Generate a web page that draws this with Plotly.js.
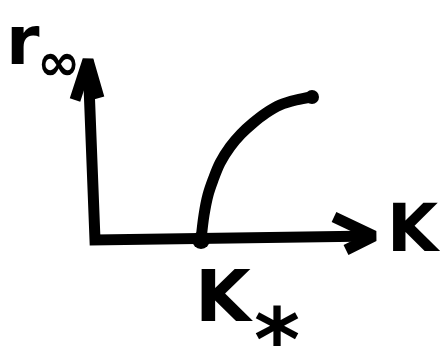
<!DOCTYPE html>
<html>
<head>
<meta charset="utf-8">
<script src="https://cdn.plot.ly/plotly-3.0.1.min.js"></script>
<style>
  html, body { margin: 0; padding: 0; background: #fff; }
  #plot { width: 440px; height: 352px; }
</style>
</head>
<body>
<div id="plot"></div>
<script>
// Sketch of r_inf versus K: zero below the threshold K*, rising beyond it.
// Coordinates are in a canvas-like frame (y grows downward).

// axes: vertical r_inf axis, horizontal K axis
const axisX = [88, 95, 374];
const axisY = [60, 240, 236];

// arrow heads
const rArrowX = [75, 88, 99];
const rArrowY = [100, 60, 98];
const kArrowX = [334, 374, 346];
const kArrowY = [217, 236, 250];

// r_inf(K) branch starting at the threshold K*
const curveK = [201, 204, 208, 213, 220, 230, 241, 253, 266, 280, 296, 312];
const curveR = [240, 215, 195, 180, 163, 147, 134, 123, 113, 105, 100, 97];

// threshold point
const thresholdK = [201];
const thresholdR = [240];

const ink = '#000';
const stroke = 11;

function path(x, y, w, shape) {
  return {
    x: x, y: y, type: 'scatter', mode: 'lines',
    line: { color: ink, width: w, shape: shape || 'linear' },
    hoverinfo: 'skip', showlegend: false
  };
}

const traces = [
  path(axisX, axisY, stroke),
  path(rArrowX, rArrowY, stroke),
  path(kArrowX, kArrowY, stroke),
  path(curveK, curveR, stroke, 'spline'),
  {
    x: [curveK[curveK.length - 1]], y: [curveR[curveR.length - 1]],
    type: 'scatter', mode: 'markers',
    marker: { color: ink, size: 14 }, hoverinfo: 'skip', showlegend: false
  },
  {
    x: thresholdK, y: thresholdR, type: 'scatter', mode: 'markers',
    marker: { color: ink, size: 18 }, hoverinfo: 'skip', showlegend: false
  }
];

const font = 'DejaVu Sans';
function label(text, x, y, size, xanchor) {
  return {
    text: text, x: x, y: y, xref: 'x', yref: 'y', showarrow: false,
    xanchor: xanchor || 'center', yanchor: 'middle',
    font: { family: font, size: size, color: ink, weight: 'bold' }
  };
}

const layout = {
  width: 440, height: 352,
  margin: { l: 0, r: 0, t: 0, b: 0 },
  paper_bgcolor: '#fff', plot_bgcolor: '#fff',
  xaxis: { range: [0, 440], visible: false, fixedrange: true },
  yaxis: { range: [352, 0], visible: false, fixedrange: true },
  annotations: [
    label('r', 4, 40, 68, 'left'),
    label('∞', 35, 62, 52, 'left'),
    label('K', 414, 228, 66),
    label('K', 224, 296, 72),
    label('*', 277, 339, 88)
  ]
};

Plotly.newPlot('plot', traces, layout, { staticPlot: true, displayModeBar: false });
</script>
</body>
</html>
